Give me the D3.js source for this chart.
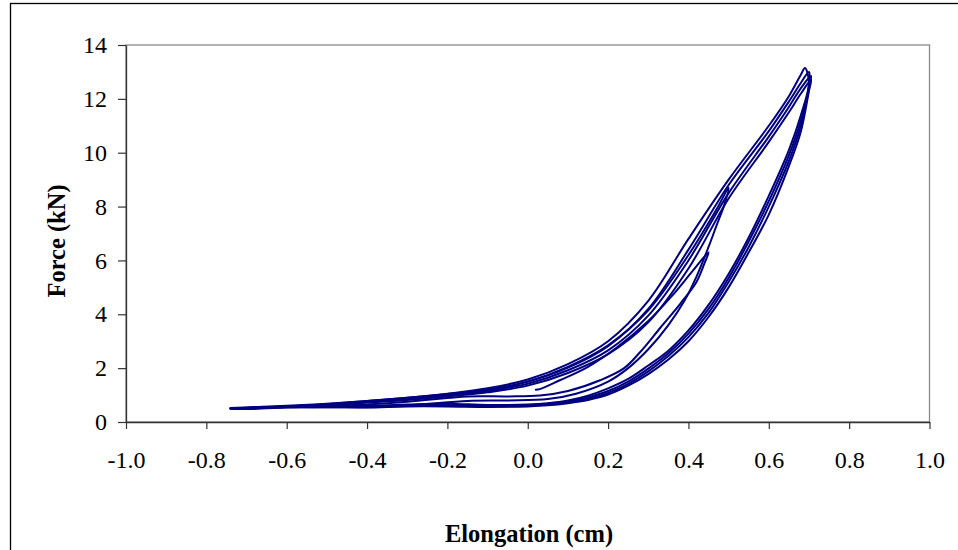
<!DOCTYPE html>
<html><head><meta charset="utf-8">
<script src="https://cdn.jsdelivr.net/npm/d3@7"></script>
<style>body{margin:0;background:#fff}svg{display:block}</style>
</head><body>
<svg id="c" width="958" height="550"></svg>
<script>
// ---- data ----
const xTicks = [-1.0,-0.8,-0.6,-0.4,-0.2,0.0,0.2,0.4,0.6,0.8,1.0];
const yTicks = [0,2,4,6,8,10,12,14];

// loading branches: elongation grid and force values for each full cycle
const loadX = [-0.74,-0.60,-0.50,-0.40,-0.30,-0.20,-0.10,0.00,0.10,0.20,0.30,0.40,0.50,0.60,0.65,0.68];
const load2 = [0.50,0.58,0.66,0.78,0.90,1.05,1.25,1.58,2.15,3.00,4.50,6.80,9.00,11.0,12.1,12.9];
const load3 = [0.52,0.60,0.68,0.78,0.90,1.04,1.20,1.50,2.02,2.82,4.20,6.40,8.80,10.8,11.9,12.6];
const load4 = [0.50,0.57,0.65,0.74,0.85,0.98,1.15,1.42,1.92,2.66,3.95,6.00,8.50,10.6,11.7,12.4];
const load5 = [0.50,0.56,0.63,0.72,0.82,0.95,1.10,1.35,1.82,2.52,3.70,5.70,8.30,10.4,11.5,12.2];
const peaks = [[0.690,13.15],[0.700,13.0],[0.705,12.85],[0.705,12.7]];

// unloading branches
const unloadX = [0.70,0.68,0.65,0.60,0.55,0.50,0.45,0.40,0.35,0.30,0.25,0.20,0.15,0.10,0.05,0.00,-0.10,-0.20,-0.30,-0.40,-0.50,-0.60,-0.70,-0.74];
const unload2 = [12.6,11.4,10.1,8.4,6.85,5.5,4.35,3.40,2.65,2.10,1.60,1.25,0.98,0.80,0.70,0.65,0.63,0.68,0.65,0.60,0.58,0.57,0.52,0.50];
const unload3 = [12.5,11.2,9.9,8.2,6.7,5.35,4.2,3.28,2.55,1.98,1.50,1.15,0.92,0.76,0.68,0.62,0.60,0.62,0.62,0.57,0.56,0.56,0.50,0.50];
const unload4 = [12.4,11.0,9.7,8.0,6.5,5.2,4.05,3.15,2.45,1.88,1.42,1.08,0.86,0.72,0.64,0.60,0.58,0.60,0.60,0.55,0.55,0.55,0.50,0.50];
const unload5 = [12.3,10.8,9.5,7.7,6.3,5.0,3.9,3.0,2.32,1.78,1.35,1.02,0.82,0.70,0.62,0.58,0.56,0.58,0.58,0.54,0.55,0.54,0.48,0.50];

// first partial cycles
const cycle0 = [[0.02,1.20],[0.03,1.22],[0.08,1.55],[0.15,2.05],[0.22,2.75],[0.30,3.75],[0.36,4.70],[0.41,5.60],[0.45,6.30],
  [0.44,5.90],[0.42,5.20],[0.38,4.40],[0.33,3.50],[0.28,2.60],[0.24,2.00],[0.18,1.55],[0.10,1.15],[0.03,0.98],[-0.05,0.95],
  [-0.15,0.95],[-0.30,0.75],[-0.45,0.62],[-0.60,0.58],[-0.72,0.50]];
const cycle1 = [[-0.72,0.50],[-0.60,0.57],[-0.50,0.64],[-0.40,0.74],[-0.30,0.86],[-0.20,1.00],[-0.10,1.18],[0.00,1.50],
  [0.10,2.05],[0.20,2.85],[0.30,4.15],[0.40,6.20],[0.47,7.90],[0.50,8.70],
  [0.49,8.10],[0.47,7.30],[0.45,6.50],[0.42,5.40],[0.39,4.50],[0.35,3.60],[0.30,2.70],[0.25,2.00],[0.20,1.50],[0.12,1.05],
  [0.05,0.85],[-0.05,0.80],[-0.15,0.78],[-0.30,0.62],[-0.45,0.58],[-0.60,0.56],[-0.73,0.50]];

// ---- build cycles ----
function build(lf, pk, uf){
  const pts = loadX.map((v,i)=>[v,lf[i]]);
  pts.push(pk);
  unloadX.forEach((v,i)=>pts.push([v,uf[i]]));
  return pts;
}
const cycles = [cycle0, cycle1,
  build(load2,peaks[0],unload2), build(load3,peaks[1],unload3),
  build(load4,peaks[2],unload4), build(load5,peaks[3],unload5)];

// ---- drawing ----
const svg = d3.select('#c');
const font = '"Times New Roman","Liberation Serif",serif';
const x = d3.scaleLinear().domain([-1,1]).range([126,929.5]);
const y = d3.scaleLinear().domain([0,14]).range([422,45]);

svg.append('rect').attr('x',10.5).attr('y',3.5).attr('width',980).attr('height',580)
  .attr('fill','none').attr('stroke','#000').attr('stroke-width',1.3);

svg.append('rect').attr('x',x(-1)).attr('y',y(14)).attr('width',x(1)-x(-1)).attr('height',y(0)-y(14))
  .attr('fill','#fff').attr('stroke','#8a8a8a').attr('stroke-width',1.3);

const line = d3.line().x(d=>x(d[0])).y(d=>y(d[1])).curve(d3.curveCatmullRom.alpha(0.5));
svg.append('g').selectAll('path').data(cycles).join('path')
  .attr('d',line).attr('fill','none').attr('stroke','#000080')
  .attr('stroke-width',2).attr('stroke-linejoin','round').attr('stroke-linecap','round');

const xa = svg.append('g').attr('transform',`translate(0,${y(0)})`)
  .call(d3.axisBottom(x).tickValues(xTicks).tickFormat(d=>d.toFixed(1)).tickSize(7).tickSizeOuter(0).tickPadding(22));
const ya = svg.append('g').attr('transform',`translate(${x(-1)},0)`)
  .call(d3.axisLeft(y).tickValues(yTicks).tickFormat(d=>String(d)).tickSize(8).tickSizeOuter(0).tickPadding(11));
[xa,ya].forEach(a=>{
  a.select('.domain').attr('stroke','#333').attr('stroke-width',1.3);
  a.selectAll('.tick line').attr('stroke','#333').attr('stroke-width',1.2);
  a.selectAll('text').attr('font-family',font).attr('font-size',24).attr('fill','#000');
});

svg.append('text').attr('x',529).attr('y',542).attr('text-anchor','middle')
  .attr('font-family',font).attr('font-weight','bold').attr('font-size',24.5).text('Elongation (cm)');
svg.append('text').attr('transform','translate(65,241) rotate(-90)').attr('text-anchor','middle')
  .attr('font-family',font).attr('font-weight','bold').attr('font-size',24.5).text('Force (kN)');
</script>
</body></html>
